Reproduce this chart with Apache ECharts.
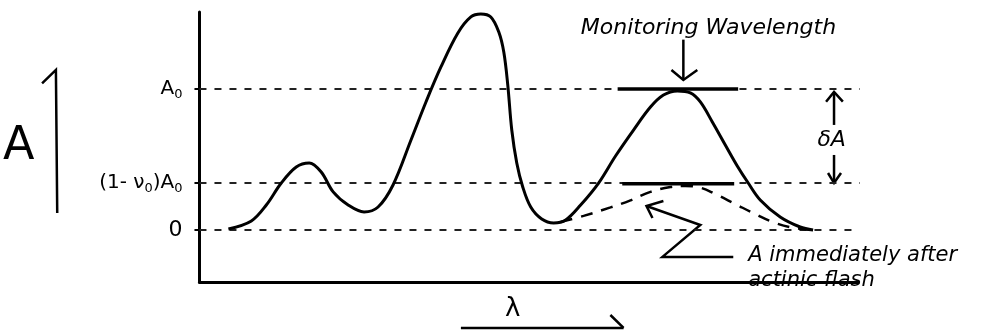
<!DOCTYPE html>
<html><head><meta charset="utf-8">
<script src="https://cdn.jsdelivr.net/npm/echarts@6/dist/echarts.min.js"></script>
<style>html,body{margin:0;padding:0;background:#fff}#c{width:986px;height:330px}</style>
</head><body><div id="c"></div>
<script>
// Absorbance spectrum (wavelength in arbitrary units 0-100, absorbance with A0 = 1)
const solidX = [4.394,7.879,10.152,12.424,14.697,16.667,18.485,20.303,22.576,25.000,27.121,29.394,32.121,34.394,36.667,39.242,41.212,42.727,44.242,45.455,46.212,46.818,47.424,48.182,49.091,50.303,51.970,53.788,55.606,57.879,60.606,63.182,65.909,68.485,70.455,72.576,74.545,76.061,77.879,79.848,81.667,83.333,85.152,88.182,91.212,93.182];
const solidA = [0.007,0.064,0.177,0.333,0.447,0.475,0.411,0.270,0.177,0.128,0.163,0.319,0.638,0.908,1.156,1.397,1.511,1.532,1.511,1.404,1.262,1.028,0.709,0.475,0.305,0.163,0.078,0.050,0.071,0.177,0.333,0.525,0.709,0.872,0.957,0.986,0.972,0.908,0.766,0.603,0.454,0.333,0.213,0.092,0.021,0];
// Absorbance immediately after actinic flash
const flashX = [54.85,58.33,62.42,65.45,68.48,71.52,73.79,76.06,78.33,81.36,84.39,87.42,90.45,93.48];
const flashA = [0.057,0.10,0.16,0.21,0.27,0.305,0.312,0.30,0.255,0.184,0.113,0.05,0.014,0];
// Reference levels
const A0 = 1;
const nu0 = 0.667;
const levelValues = [0, (1 - nu0) * A0, A0];
const levelTickLabels = ['{z|0}', '{m|(1- ν}{s|0}{m|)A}{s|0}', '{m|A}{s|0}'];
const levelLineEnds = [99.7, 100.5, 101.5];
// Annotation geometry (data coordinates)
const monitorX = 73.48;
const barTop = [[63.5, 1.0], [81.8, 1.0]];
const barMid = [[64.2, 0.328], [81.2, 0.328]];
const annotPaths = [
  [[monitorX, 1.35], [monitorX, 1.064]],
  [[71.67, 1.135], [monitorX, 1.064], [75.6, 1.135]],
  [[96.36, 0.745], [96.36, 0.979]],
  [[95.15, 0.91], [96.36, 0.979], [97.7, 0.91]],
  [[96.36, 0.532], [96.36, 0.333]],
  [[95.45, 0.404], [96.36, 0.333], [97.42, 0.404]],
  [[81.06, -0.191], [70.30, -0.191], [76.06, 0.035], [67.88, 0.170]],
  [[70.45, 0.205], [67.88, 0.170], [68.79, 0.085]],
  [[39.7, -0.695], [64.4, -0.695]],
  [[62.4, -0.603], [64.4, -0.695]],
  [[-23.9, 1.04], [-21.8, 1.135], [-21.6, 0.12]]
];
const texts = [
  {value: [57.9, 1.43], text: 'Monitoring Wavelength', align: 'left', size: 22},
  {value: [96.0, 0.638], text: 'δA', align: 'center', size: 22},
  {value: [83.33, -0.27], text: 'A immediately after\nactinic flash', align: 'left', size: 21}
];

const chart = echarts.init(document.getElementById('c'), null, {renderer: 'canvas'});
const FONT = 'DejaVu Sans';
const series = [];
levelValues.forEach((v, i) => {
  series.push({type: 'line', data: [[0, v], [levelLineEnds[i], v]], symbol: 'none', clip: false, silent: true,
    lineStyle: {color: '#222', width: 2, type: [7, 8]}});
});
series.push({type: 'line', data: solidX.map((x, i) => [x, solidA[i]]), symbol: 'none', smooth: 0.35, clip: false,
  lineStyle: {color: '#000', width: 3}});
series.push({type: 'line', data: flashX.map((x, i) => [x, flashA[i]]), symbol: 'none', smooth: 0.4, clip: false,
  lineStyle: {color: '#000', width: 2.5, type: [12, 9]}});
series.push({type: 'line', data: barTop, symbol: 'none', clip: false, lineStyle: {color: '#000', width: 3.5}});
series.push({type: 'line', data: barMid, symbol: 'none', clip: false, lineStyle: {color: '#000', width: 3.5}});
series.push({type: 'lines', coordinateSystem: 'cartesian2d', polyline: true, clip: false, silent: true,
  lineStyle: {color: '#000', width: 2.5, opacity: 1, curveness: 0},
  data: annotPaths.map(p => ({coords: p}))});
series.push({type: 'scatter', symbolSize: 0, clip: false, silent: true, itemStyle: {opacity: 1},
  data: texts.map(t => ({value: t.value, label: {show: true, position: 'inside', formatter: t.text, align: t.align,
    fontSize: t.size, fontStyle: 'italic', fontFamily: FONT, color: '#000', opacity: 1, lineHeight: 25}}))});

chart.setOption({
  animation: false,
  backgroundColor: '#fff',
  grid: {left: 198, right: 128, top: 12, bottom: 48, containLabel: false},
  xAxis: {type: 'value', min: 0, max: 100,
    axisLine: {onZero: false, lineStyle: {color: '#000', width: 3}},
    axisTick: {show: false}, axisLabel: {show: false}, splitLine: {show: false},
    name: 'λ', nameLocation: 'middle', nameGap: 14,
    nameTextStyle: {fontSize: 26, fontFamily: FONT, color: '#000', padding: [0, 32, 0, 0]}},
  yAxis: {type: 'value', min: -0.369, max: 1.546,
    axisLine: {show: true, onZero: false, lineStyle: {color: '#000', width: 3}},
    axisTick: {show: true, customValues: levelValues, length: 5, lineStyle: {color: '#000', width: 2}},
    axisLabel: {show: true, customValues: levelValues, margin: 17,
      formatter: (v) => { const i = levelValues.findIndex(x => Math.abs(x - v) < 1e-6); return i >= 0 ? levelTickLabels[i] : ''; },
      rich: {m: {fontSize: 20, fontFamily: FONT, color: '#000', lineHeight: 24, verticalAlign: 'middle'},
             z: {fontSize: 22, fontFamily: FONT, color: '#000', lineHeight: 24, verticalAlign: 'middle'},
             s: {fontSize: 13, fontFamily: FONT, color: '#000', lineHeight: 13, verticalAlign: 'bottom'}}},
    splitLine: {show: false},
    name: 'A', nameLocation: 'middle', nameGap: 165, nameRotate: 0,
    nameTextStyle: {fontSize: 46, fontFamily: FONT, color: '#000', fontWeight: 'normal'}},
  series: series
});
</script></body></html>
